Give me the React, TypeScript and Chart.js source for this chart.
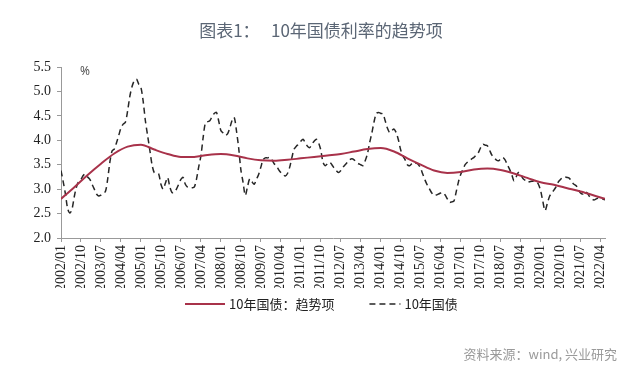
import { useEffect, useRef } from 'react';
import { Chart, registerables } from 'chart.js';

Chart.register(...registerables);

const chartTitle = '图表1：   10年国债利率的趋势项';
const sourceText = '资料来源：wind, 兴业研究';
const seriesNames = ['10年国债：趋势项', '10年国债'];
const unitLabel = '%';

// x tick labels, one every 9 months starting 2002/01
const tickLabels = [
  '2002/01', '2002/10', '2003/07', '2004/04', '2005/01', '2005/10', '2006/07',
  '2007/04', '2008/01', '2008/10', '2009/07', '2010/04', '2011/01', '2011/10',
  '2012/07', '2013/04', '2014/01', '2014/10', '2015/07', '2016/04', '2017/01',
  '2017/10', '2018/07', '2019/04', '2020/01', '2020/10', '2021/07', '2022/04',
];
const tickStepMonths = 9;

// monthly 10Y yield, 2002/01 .. 2022/06
const yield2002 = [3.38, 3.15, 2.9, 2.6, 2.51, 2.6, 2.85, 3.05, 3.16, 3.2, 3.28, 3.31];
const yield2003 = [3.25, 3.2, 3.1, 3.0, 2.9, 2.86, 2.88, 2.92, 2.95, 3.2, 3.55, 3.78];
const yield2004 = [3.82, 3.95, 4.1, 4.25, 4.33, 4.37, 4.6, 4.9, 5.1, 5.22, 5.25, 5.15];
const yield2005 = [5.08, 4.8, 4.4, 4.1, 3.8, 3.5, 3.34, 3.33, 3.31, 3.1, 3.0, 3.12];
const yield2006 = [3.24, 3.05, 2.93, 2.93, 3.0, 3.1, 3.2, 3.24, 3.1, 3.04, 3.03, 3.03];
const yield2007 = [3.04, 3.2, 3.45, 3.68, 4.05, 4.35, 4.38, 4.4, 4.48, 4.55, 4.57, 4.4];
const yield2008 = [4.2, 4.15, 4.1, 4.13, 4.25, 4.4, 4.47, 4.2, 3.85, 3.4, 3.14, 2.87];
const yield2009 = [3.05, 3.21, 3.15, 3.1, 3.2, 3.3, 3.45, 3.6, 3.64, 3.64, 3.65, 3.6];
const yield2010 = [3.52, 3.48, 3.4, 3.34, 3.3, 3.27, 3.32, 3.45, 3.65, 3.82, 3.88, 3.92];
const yield2011 = [3.98, 4.02, 3.95, 3.88, 3.85, 3.92, 3.98, 4.02, 3.95, 3.8, 3.55, 3.48];
const yield2012 = [3.52, 3.55, 3.5, 3.43, 3.38, 3.34, 3.38, 3.45, 3.5, 3.55, 3.6, 3.62];
const yield2013 = [3.6, 3.55, 3.52, 3.5, 3.48, 3.58, 3.72, 3.95, 4.15, 4.38, 4.55, 4.57];
const yield2014 = [4.55, 4.54, 4.4, 4.25, 4.16, 4.2, 4.23, 4.15, 4.0, 3.8, 3.68, 3.6];
const yield2015 = [3.5, 3.48, 3.52, 3.55, 3.53, 3.5, 3.42, 3.3, 3.18, 3.08, 3.0, 2.92];
const yield2016 = [2.87, 2.88, 2.9, 2.92, 2.93, 2.88, 2.8, 2.73, 2.74, 2.76, 2.95, 3.15];
const yield2017 = [3.3, 3.4, 3.5, 3.55, 3.58, 3.62, 3.65, 3.7, 3.75, 3.85, 3.92, 3.9];
const yield2018 = [3.89, 3.8, 3.7, 3.65, 3.6, 3.58, 3.62, 3.65, 3.6, 3.5, 3.41, 3.3];
const yield2019 = [3.17, 3.25, 3.34, 3.3, 3.22, 3.18, 3.14, 3.15, 3.16, 3.17, 3.17, 3.1];
const yield2020 = [2.97, 2.75, 2.56, 2.7, 2.85, 2.92, 2.98, 3.05, 3.15, 3.2, 3.24, 3.25];
const yield2021 = [3.24, 3.22, 3.15, 3.1, 3.07, 3.0, 2.92, 2.9, 2.95, 2.92, 2.85, 2.8];
const yield2022 = [2.78, 2.8, 2.82, 2.8, 2.8, 2.78];

const yieldMonthly = [
  ...yield2002, ...yield2003, ...yield2004, ...yield2005, ...yield2006, ...yield2007,
  ...yield2008, ...yield2009, ...yield2010, ...yield2011, ...yield2012, ...yield2013,
  ...yield2014, ...yield2015, ...yield2016, ...yield2017, ...yield2018, ...yield2019,
  ...yield2020, ...yield2021, ...yield2022,
];

// trend component, sampled every 6 months (month index from 2002/01)
const trendMonths = [
  0, 6, 12, 18, 24, 30, 36, 42, 48, 54, 60, 66, 72, 78, 84, 90, 96, 102, 108, 114, 120,
  126, 132, 138, 144, 150, 156, 162, 168, 174, 180, 186, 192, 198, 204, 210, 216, 222,
  228, 234, 240, 245,
];
const trendValues = [
  2.8, 3.04, 3.29, 3.52, 3.73, 3.87, 3.91, 3.81, 3.72, 3.66, 3.66, 3.7, 3.72, 3.69, 3.63,
  3.59, 3.58, 3.6, 3.63, 3.66, 3.69, 3.72, 3.77, 3.82, 3.84, 3.77, 3.63, 3.5, 3.38, 3.33,
  3.35, 3.4, 3.42, 3.39, 3.32, 3.23, 3.14, 3.09, 3.02, 2.95, 2.87, 2.8,
];

const yMin = 2.0;
const yMax = 5.5;
const yStep = 0.5;

const serifFont = "'Liberation Serif', 'Times New Roman', serif";
const cjkFont = "'Noto Sans CJK SC', 'Noto Sans', sans-serif";

const textPlugin = {
  id: 'texts',
  afterDraw(chart: any) {
    const { ctx, chartArea } = chart;
    ctx.save();
    // title
    ctx.fillStyle = '#5b6675';
    ctx.font = `17px ${cjkFont}`;
    ctx.textAlign = 'center';
    ctx.textBaseline = 'middle';
    ctx.fillText(chartTitle, 321, 31);
    // unit
    ctx.fillStyle = '#555';
    ctx.font = `12px 'Noto Sans', sans-serif`;
    ctx.textAlign = 'left';
    ctx.fillText(unitLabel, chartArea.left + 19, chartArea.top + 5);
    // legend
    const ds = chart.data.datasets;
    const ly = 304;
    ctx.font = `13px ${cjkFont}`;
    ctx.fillStyle = '#222';
    let x = 185;
    const sampleW = [40, 31];
    for (let i = 0; i < ds.length; i++) {
      ctx.save();
      ctx.strokeStyle = ds[i].borderColor;
      ctx.lineWidth = ds[i].borderWidth;
      ctx.setLineDash(ds[i].borderDash || []);
      ctx.beginPath();
      ctx.moveTo(x, ly);
      ctx.lineTo(x + sampleW[i], ly);
      ctx.stroke();
      ctx.restore();
      x += sampleW[i] + 4;
      ctx.fillText(ds[i].label, x, ly);
      x += ctx.measureText(ds[i].label).width + 35;
    }
    // source
    ctx.fillStyle = '#9a9a9a';
    ctx.font = `13px ${cjkFont}`;
    ctx.textAlign = 'right';
    ctx.fillText(sourceText, 617, 354);
    ctx.restore();
  },
};

export default function App() {
  const ref = useRef<HTMLCanvasElement>(null);
  useEffect(() => {
    document.body.style.margin = '0';
    const canvas = ref.current!;
    const chart = new Chart(canvas, {
      type: 'line',
      data: {
        datasets: [
          {
            label: seriesNames[0],
            data: trendMonths.map((m, i) => ({ x: m, y: trendValues[i] })),
            borderColor: '#A8324A',
            borderWidth: 2,
            pointRadius: 0,
            cubicInterpolationMode: 'monotone',
            fill: false,
          },
          {
            label: seriesNames[1],
            data: yieldMonthly.map((v, i) => ({ x: i, y: v })),
            borderColor: '#262626',
            borderWidth: 1.5,
            borderDash: [6, 4],
            pointRadius: 0,
            tension: 0.3,
            fill: false,
          },
        ],
      },
      options: {
        responsive: false,
        animation: false,
        layout: { padding: { top: 67, left: 33, right: 35, bottom: 80 } },
        plugins: {
          legend: { display: false },
          tooltip: { enabled: false },
          title: { display: false },
        },
        scales: {
          x: {
            type: 'linear',
            min: 0,
            max: yieldMonthly.length - 1,
            bounds: 'data',
            grid: { drawOnChartArea: false, drawTicks: true, tickLength: 4, color: '#999' },
            border: { color: '#999' },
            afterBuildTicks: (s: any) => {
              s.ticks = tickLabels.map((_, i) => ({ value: i * tickStepMonths }));
            },
            ticks: {
              autoSkip: false,
              minRotation: 90,
              maxRotation: 90,
              padding: 3,
              color: '#222',
              font: { family: serifFont, size: 14 },
              callback: (v: any) => tickLabels[Math.round(Number(v) / tickStepMonths)] ?? '',
            },
            afterFit: (s: any) => {
              s.height = 50;
              s.paddingLeft = 0;
              s.paddingRight = 0;
            },
          },
          y: {
            min: yMin,
            max: yMax,
            grid: { drawOnChartArea: false, drawTicks: true, tickLength: 4, color: '#999' },
            border: { color: '#999' },
            ticks: {
              stepSize: yStep,
              padding: 6,
              color: '#222',
              font: { family: serifFont, size: 14 },
              callback: (v: any) => Number(v).toFixed(1),
            },
            afterFit: (s: any) => {
              s.width = 28;
              s.paddingTop = 0;
              s.paddingBottom = 0;
            },
          },
        },
      },
      plugins: [textPlugin],
    } as any);
    return () => chart.destroy();
  }, []);
  return <canvas ref={ref} width={640} height={368} style={{ display: 'block' }} />;
}
